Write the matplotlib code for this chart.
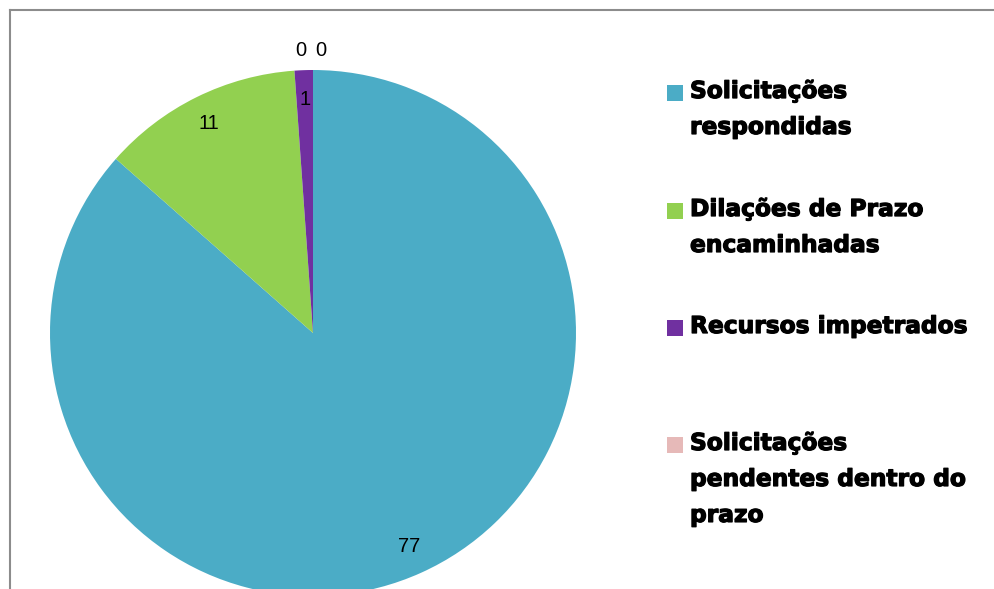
import numpy as np
import matplotlib
matplotlib.use('Agg')
import matplotlib.pyplot as plt
import matplotlib.patheffects as pe
from matplotlib.patches import Rectangle

# chart data
categories = ['Solicitações\nrespondidas',
              'Dilações de Prazo\nencaminhadas',
              'Recursos impetrados',
              'Solicitações\npendentes dentro do\nprazo',
              'Solicitações\npendentes fora do\nprazo']
values = [77, 11, 1, 0, 0]
colors = ['#4BACC6', '#92D050', '#7030A0', '#E6B9B8', '#C0504D']

W, H = 995, 589
fig = plt.figure(figsize=(W / 100, H / 100), dpi=100)
ax = fig.add_axes([0, 0, 1, 1])

cx, cy, R = 313, H - 333, 263
wedges, _ = ax.pie(values, colors=colors, startangle=90, counterclock=False,
                   radius=R, center=(cx, cy), frame=True,
                   wedgeprops=dict(linewidth=0))
ax.set_xlim(0, W)
ax.set_ylim(0, H)
ax.set_aspect('equal')
ax.axis('off')

# data labels
lab_font = dict(family='Liberation Sans', fontsize=14.5, color='black',
                ha='center', va='center')
zero_dx = [-12, 8]
zi = 0
for w, v in zip(wedges, values):
    if v == 0:
        ax.text(cx + zero_dx[zi], cy + 1.076 * R, str(v), **lab_font)
        zi += 1
        continue
    ang = np.deg2rad((w.theta1 + w.theta2) / 2)
    ax.text(cx + 0.89 * R * np.cos(ang), cy + 0.89 * R * np.sin(ang), str(v),
            **lab_font)

# chart area border (clipped at right/bottom)
ax.plot([10, W + 5], [H - 10, H - 10], color='#8c8c8c', lw=1.5, clip_on=False)
ax.plot([10, 10], [H - 10, -5], color='#8c8c8c', lw=1.5, clip_on=False)

# legend, evenly spaced like the original
leg_y = [93, 211, 328, 445]
heavy = [pe.withStroke(linewidth=0.9, foreground='black')]
for lab, col, y in zip(categories[:4], colors[:4], leg_y):
    ax.add_patch(Rectangle((667, H - y - 8), 16, 16, color=col, lw=0))
    ax.text(690, H - y + 13, lab, family='DejaVu Sans', fontweight='bold',
            fontsize=16.8, ha='left', va='top', linespacing=1.72,
            path_effects=heavy)

fig.savefig('out.png', dpi=100)
